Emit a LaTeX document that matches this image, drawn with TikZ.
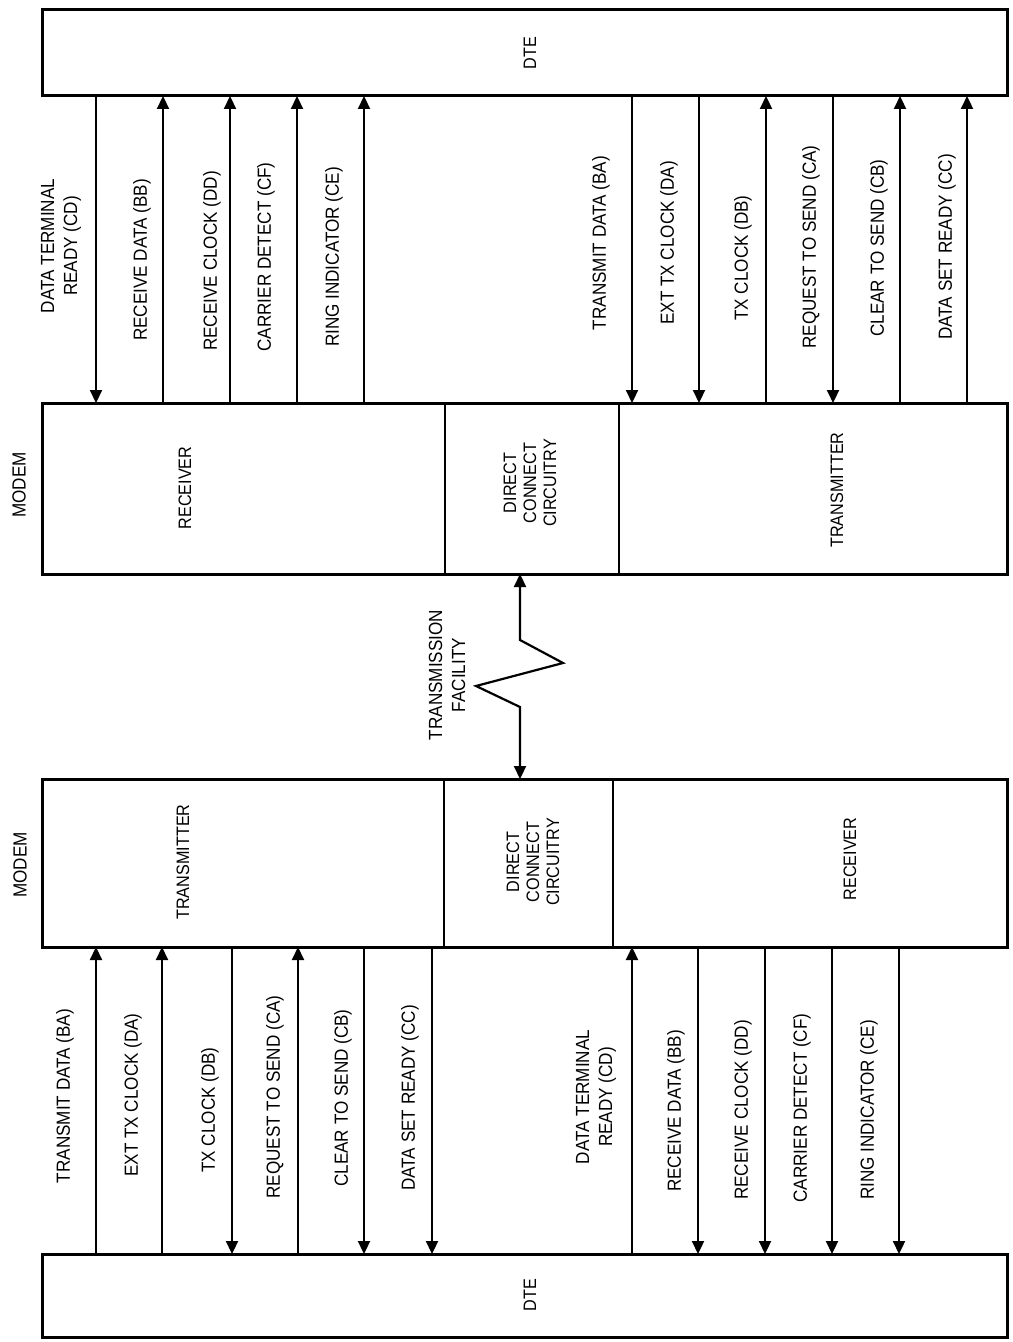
\documentclass[tikz,border=0pt]{standalone}
\usepackage{fontspec}
\setmainfont{Liberation Sans}[FakeStretch=0.9]
\usetikzlibrary{arrows.meta}
\begin{document}
\begin{tikzpicture}[x=0.5pt,y=-0.5pt,
  sect/.style 2 args={draw, line width=0.7pt, inner sep=0pt, outer sep=0pt, minimum width=#1, minimum height=#2},
  dtebox/.style 2 args={draw, line width=1.5pt, inner sep=0pt, outer sep=0pt, minimum width=#1, minimum height=#2},
  outerline/.style={line width=1.5pt},
  sig/.style={line width=1.1pt},
  atend/.style={-{Triangle[width=6pt,length=6.5pt]}},
  atstart/.style={{Triangle[width=6pt,length=6.5pt]}-},
  both/.style={{Triangle[width=6pt,length=6.5pt]}-{Triangle[width=6pt,length=6.5pt]}},
  lab/.style={rotate=90, align=center, inner sep=0pt, font=\fontsize{9.5}{11.5}\selectfont},
  boxlab/.style={rotate=90, align=center, inner sep=0pt, font=\fontsize{9}{10}\selectfont}
]
\useasboundingbox (0,0) rectangle (1012,1342);

% ---------- boxes ----------
\node[dtebox={482.5pt}{43pt}] (dteT) at (524.5,53) {};
\node[sect={201.5pt}{85.5pt}] (rxT) at (243.5,488.5) {};
\node[sect={87pt}{85.5pt}] (dccT) at (532,488.5) {};
\node[sect={194pt}{85.5pt}] (txT) at (813,488.5) {};
\draw[outerline] (rxT.north west) rectangle (txT.south east);

\node[sect={201pt}{84pt}] (txB) at (243,863) {};
\node[sect={84.5pt}{84pt}] (dccB) at (528.5,863) {};
\node[sect={197pt}{84pt}] (rxB) at (810,863) {};
\draw[outerline] (txB.north west) rectangle (rxB.south east);

\node[dtebox={482.5pt}{41.5pt}] (dteB) at (524.5,1295.5) {};

% ---------- box texts ----------
\node[boxlab] (tDTEt) at (530,53) {DTE};
\node[boxlab] (tDTEb) at (530,1295) {DTE};
\node[lab] (tModemT) at (19,485) {MODEM};
\node[lab] (tModemB) at (20,865) {MODEM};
\node[boxlab] (tRxT) at (185,488) {RECEIVER};
\node[boxlab] (tDccT) at (530,483) {DIRECT\\CONNECT\\CIRCUITRY};
\node[boxlab] (tTxT) at (837,490) {TRANSMITTER};
\node[boxlab] (tTxB) at (183,862) {TRANSMITTER};
\node[boxlab] (tDccB) at (533,862) {DIRECT\\CONNECT\\CIRCUITRY};
\node[boxlab] (tRxB) at (850,859) {RECEIVER};

% ---------- signal positions ----------
\coordinate (a1) at (96,0);
\coordinate (a2) at (163,0);
\coordinate (a3) at (230,0);
\coordinate (a4) at (297,0);
\coordinate (a5) at (364,0);
\coordinate (a6) at (632,0);
\coordinate (a7) at (699,0);
\coordinate (a8) at (766,0);
\coordinate (a9) at (833,0);
\coordinate (a10) at (900,0);
\coordinate (a11) at (967,0);

\coordinate (b1) at (96,0);
\coordinate (b2) at (162,0);
\coordinate (b3) at (232,0);
\coordinate (b4) at (298,0);
\coordinate (b5) at (364,0);
\coordinate (b6) at (432,0);
\coordinate (b7) at (632,0);
\coordinate (b8) at (698,0);
\coordinate (b9) at (765,0);
\coordinate (b10) at (832,0);
\coordinate (b11) at (899,0);

% ---------- top interface ----------
\draw[sig,atend]   (dteT.south -| a1) -- (rxT.north -| a1);
\draw[sig,atstart] (dteT.south -| a2) -- (rxT.north -| a2);
\draw[sig,atstart] (dteT.south -| a3) -- (rxT.north -| a3);
\draw[sig,atstart] (dteT.south -| a4) -- (rxT.north -| a4);
\draw[sig,atstart] (dteT.south -| a5) -- (rxT.north -| a5);
\draw[sig,atend]   (dteT.south -| a6) -- (txT.north -| a6);
\draw[sig,atend]   (dteT.south -| a7) -- (txT.north -| a7);
\draw[sig,atstart] (dteT.south -| a8) -- (txT.north -| a8);
\draw[sig,atend]   (dteT.south -| a9) -- (txT.north -| a9);
\draw[sig,atstart] (dteT.south -| a10) -- (txT.north -| a10);
\draw[sig,atstart] (dteT.south -| a11) -- (txT.north -| a11);

\node[lab] (l1) at (61,246) {DATA TERMINAL\\READY (CD)};
\node[lab] (l2) at (142,260) {RECEIVE DATA (BB)};
\node[lab] (l3) at (212,261) {RECEIVE CLOCK (DD)};
\node[lab] (l4) at (266,257) {CARRIER DETECT (CF)};
\node[lab] (l5) at (334,257) {RING INDICATOR (CE)};
\node[lab] (l6) at (601,243) {TRANSMIT DATA (BA)};
\node[lab] (l7) at (669,243) {EXT TX CLOCK (DA)};
\node[lab] (l8) at (743,258) {TX CLOCK (DB)};
\node[lab] (l9) at (811,247) {REQUEST TO SEND (CA)};
\node[lab] (l10) at (879,248) {CLEAR TO SEND (CB)};
\node[lab] (l11) at (947,247) {DATA SET READY (CC)};

% ---------- transmission facility ----------
\coordinate (tf) at (520,0);
\draw[sig,both,line join=miter] (dccT.south -| tf) -- (520,640) -- (563,663) -- (476,686) -- (520,707) -- (dccB.north -| tf);
\node[lab] (tTF) at (447,675) {TRANSMISSION\\FACILITY};

% ---------- bottom interface ----------
\draw[sig,atstart] (txB.south -| b1) -- (dteB.north -| b1);
\draw[sig,atstart] (txB.south -| b2) -- (dteB.north -| b2);
\draw[sig,atend]   (txB.south -| b3) -- (dteB.north -| b3);
\draw[sig,atstart] (txB.south -| b4) -- (dteB.north -| b4);
\draw[sig,atend]   (txB.south -| b5) -- (dteB.north -| b5);
\draw[sig,atend]   (txB.south -| b6) -- (dteB.north -| b6);
\draw[sig,atstart] (rxB.south -| b7) -- (dteB.north -| b7);
\draw[sig,atend]   (rxB.south -| b8) -- (dteB.north -| b8);
\draw[sig,atend]   (rxB.south -| b9) -- (dteB.north -| b9);
\draw[sig,atend]   (rxB.south -| b10) -- (dteB.north -| b10);
\draw[sig,atend]   (rxB.south -| b11) -- (dteB.north -| b11);

\node[lab] (m1) at (65,1096) {TRANSMIT DATA (BA)};
\node[lab] (m2) at (133,1095) {EXT TX CLOCK (DA)};
\node[lab] (m3) at (210,1110) {TX CLOCK (DB)};
\node[lab] (m4) at (275,1097) {REQUEST TO SEND (CA)};
\node[lab] (m5) at (343,1098) {CLEAR TO SEND (CB)};
\node[lab] (m6) at (410,1098) {DATA SET READY (CC)};
\node[lab] (m7) at (596,1097) {DATA TERMINAL\\READY (CD)};
\node[lab] (m8) at (676,1111) {RECEIVE DATA (BB)};
\node[lab] (m9) at (743,1110) {RECEIVE CLOCK (DD)};
\node[lab] (m10) at (802,1108) {CARRIER DETECT (CF)};
\node[lab] (m11) at (869,1110) {RING INDICATOR (CE)};
\end{tikzpicture}
\end{document}
